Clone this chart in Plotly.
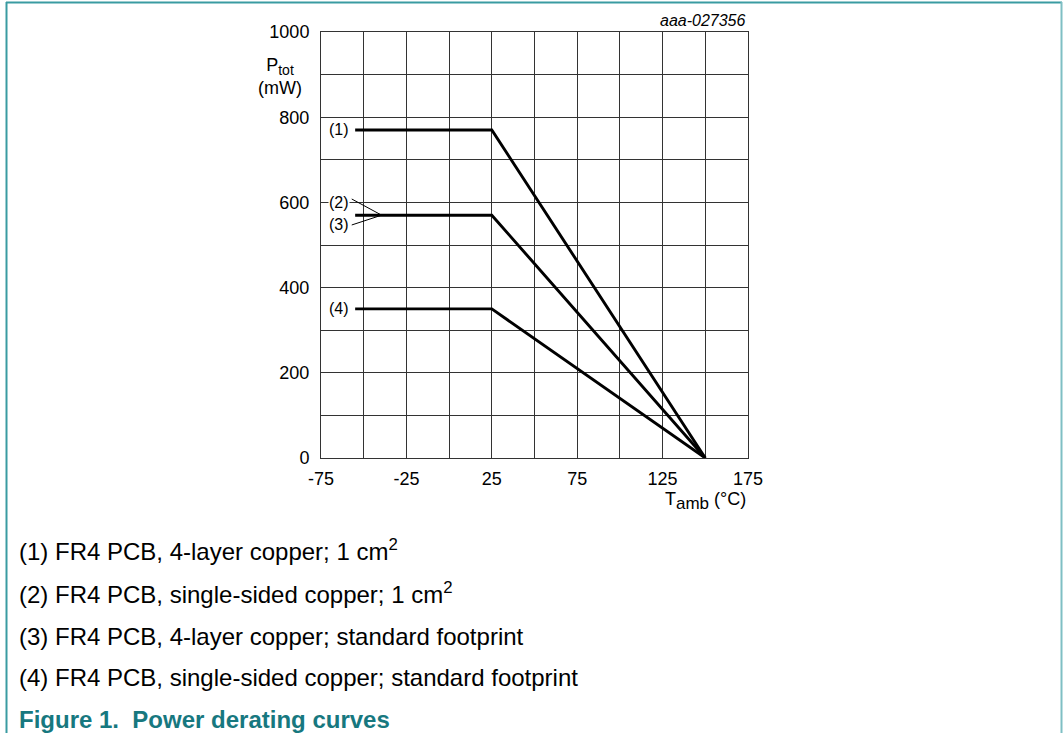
import plotly.graph_objects as go

# ---- data ----
temps = [-55, 25, 150]
p_curve1 = [770, 770, 0]
p_curve23 = [570, 570, 0]
p_curve4 = [350, 350, 0]
x_ticks = [-75, -25, 25, 75, 125, 175]
x_ticklabels = ["-75", "-25", "25", "75", "125", "175"]
y_ticks = [0, 200, 400, 600, 800, 1000]
curve_labels = ["(1)", "(2)", "(3)", "(4)"]
notes = [
    "(1) FR4 PCB, 4-layer copper; 1 cm<sup>2</sup>",
    "(2) FR4 PCB, single-sided copper; 1 cm<sup>2</sup>",
    "(3) FR4 PCB, 4-layer copper; standard footprint",
    "(4) FR4 PCB, single-sided copper; standard footprint",
]
title_text = "Figure 1.  Power derating curves"
code_text = "aaa-027356"

W, H = 1063, 733
L, R, T, B = 321, 748, 32, 458
FONT = "Arial, Liberation Sans, sans-serif"
TEAL = "#3a9ba2"
TEAL_DARK = "#17787f"


def px(x):
    return (x - L) / (R - L)


def py(y):
    return (B - y) / (B - T)


fig = go.Figure()
for ys in (p_curve1, p_curve23, p_curve4):
    fig.add_trace(go.Scatter(x=temps, y=ys, mode="lines",
                             line=dict(color="black", width=2.9),
                             showlegend=False, hoverinfo="skip"))

grid = "#333333"
fig.update_xaxes(range=[-75, 175], tickvals=x_ticks, ticktext=x_ticklabels, showgrid=True,
                 gridcolor=grid, gridwidth=1,
                 minor=dict(dtick=25, tick0=-75, showgrid=True, gridcolor=grid, gridwidth=1),
                 showline=True, linecolor=grid, linewidth=1, mirror=True,
                 zeroline=False, ticks="", ticklabelstandoff=4,
                 tickfont=dict(family=FONT, size=18, color="black"))
fig.update_yaxes(range=[0, 1000], tickvals=y_ticks, showgrid=True,
                 gridcolor=grid, gridwidth=1,
                 minor=dict(dtick=100, tick0=0, showgrid=True, gridcolor=grid, gridwidth=1),
                 showline=True, linecolor=grid, linewidth=1, mirror=True,
                 zeroline=False, ticks="", ticklabelstandoff=7,
                 tickfont=dict(family=FONT, size=18, color="black"))

ann = []
# curve labels
label_y = [770, 600, 547, 350]
for lab, yv in zip(curve_labels, label_y):
    ann.append(dict(x=-58.3, y=yv, xref="x", yref="y", text=lab, showarrow=False,
                    xanchor="right", yanchor="middle", bgcolor="white",
                    font=dict(family=FONT, size=16, color="black"), borderpad=0))

# leader lines for (2) and (3)
shapes = [
    dict(type="line", xref="x", yref="y", x0=-57, y0=608, x1=-39.5, y1=570,
         line=dict(color="black", width=1)),
    dict(type="line", xref="x", yref="y", x0=-57, y0=547, x1=-39.5, y1=570,
         line=dict(color="black", width=1)),
]

# axis titles
ann.append(dict(x=px(280), y=py(77), xref="paper", yref="paper",
                text="P<sub><span style='font-size:14px'>tot</span></sub><br>(mW)",
                showarrow=False, xanchor="center", yanchor="middle", align="center",
                font=dict(family=FONT, size=18, color="black")))
ann.append(dict(x=px(748), y=py(501), xref="paper", yref="paper",
                text="T<sub><span style='font-size:17px'>amb</span></sub> (°C)",
                showarrow=False, xanchor="right", yanchor="middle",
                font=dict(family=FONT, size=18, color="black")))
ann.append(dict(x=px(748), y=py(20), xref="paper", yref="paper",
                text="<i>" + code_text + "</i>", showarrow=False,
                xanchor="right", yanchor="middle",
                font=dict(family=FONT, size=16, color="black")))

# notes
note_y = [550, 593, 635, 676]
for t, yy in zip(notes, note_y):
    ann.append(dict(x=px(17), y=py(yy + 16.5), xref="paper", yref="paper", text=t,
                    showarrow=False, xanchor="left", yanchor="bottom",
                    font=dict(family=FONT, size=24, color="black")))
ann.append(dict(x=px(17), y=py(718 + 16.5), xref="paper", yref="paper",
                text="<b>" + title_text + "</b>", showarrow=False,
                xanchor="left", yanchor="bottom",
                font=dict(family=FONT, size=24, color=TEAL_DARK)))

# frame
shapes += [
    dict(type="line", xref="paper", yref="paper", x0=px(6), y0=py(2.5), x1=px(1062), y1=py(2.5),
         line=dict(color=TEAL, width=2)),
    dict(type="line", xref="paper", yref="paper", x0=px(6.5), y0=py(2), x1=px(6.5), y1=py(740),
         line=dict(color=TEAL, width=2)),
    dict(type="line", xref="paper", yref="paper", x0=px(1061.5), y0=py(2), x1=px(1061.5), y1=py(740),
         line=dict(color="#7fbfc4", width=2)),
]

fig.update_layout(width=W, height=H, autosize=False,
                  margin=dict(l=L, r=W - R, t=T, b=H - B),
                  paper_bgcolor="white", plot_bgcolor="white",
                  annotations=ann, shapes=shapes, showlegend=False)

fig.write_html("out.html", config={"displayModeBar": False},
               post_script="document.body.style.margin='0';document.body.style.overflow='hidden';")
